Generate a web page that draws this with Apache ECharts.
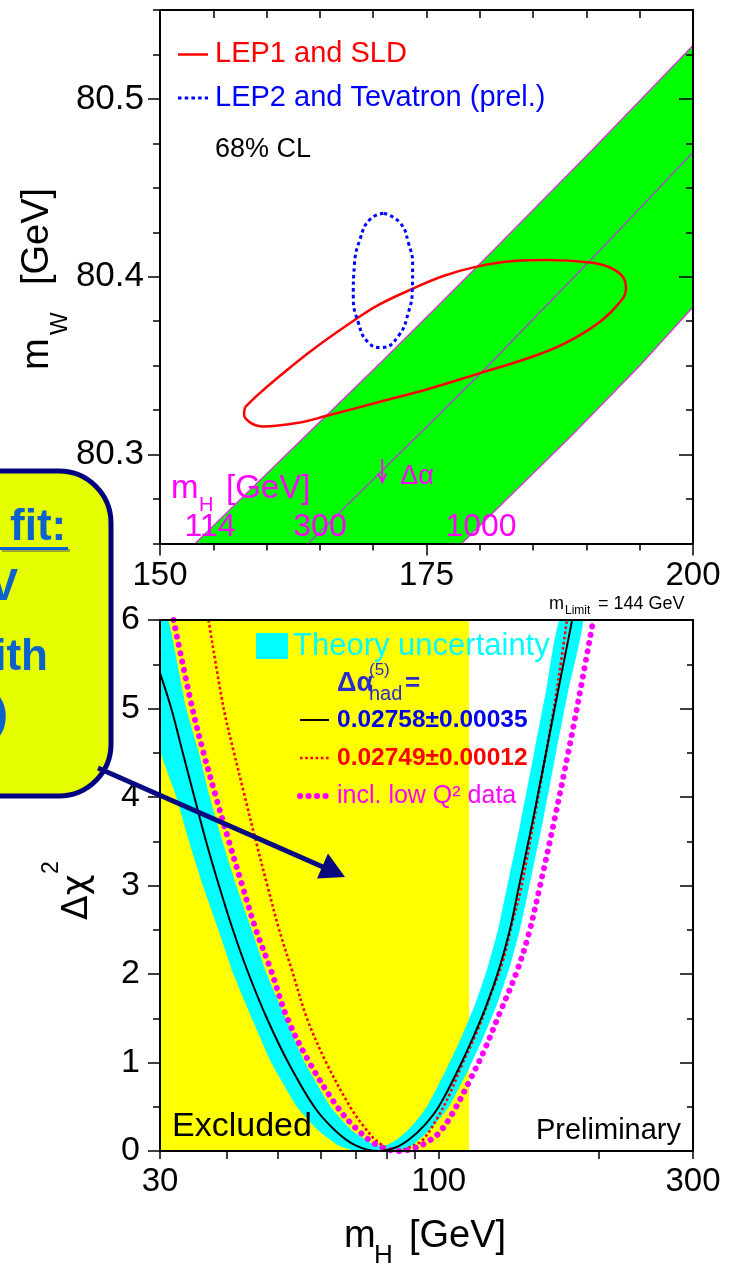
<!DOCTYPE html>
<html><head><meta charset="utf-8">
<script src="https://cdn.jsdelivr.net/npm/echarts@6/dist/echarts.min.js"></script>
<style>html,body{margin:0;padding:0;background:#fff}#c{width:729px;height:1266px}</style>
</head><body><div id="c"></div><script>
// ===== DATA: top panel (m_t [GeV], m_W [GeV]) =====
const lep1Sld = [[157.97,80.3265],[159.07,80.333],[161.26,80.3443],[164.38,80.3593],[168.6,80.3771],[170.64,80.3846],[173.61,80.393],[176.58,80.4004],[179.71,80.4057],[183.14,80.4089],[186.27,80.4094],[190.34,80.408],[192.21,80.4052],[193.46,80.3996],[193.71,80.393],[192.84,80.3836],[190.97,80.3733],[187.83,80.3621],[184.71,80.3546],[180.02,80.3458],[175.33,80.3372],[170.64,80.3297],[165.64,80.3218],[162.82,80.3177],[159.69,80.3158],[158.44,80.3181],[157.88,80.3228],[157.97,80.3265]];
const lep2Tev = [[171.01,80.4357],[172.51,80.4304],[173.3,80.4192],[173.7,80.4061],[173.67,80.393],[173.3,80.3799],[172.36,80.3667],[170.8,80.3602],[169.54,80.363],[168.6,80.3743],[168.13,80.3892],[168.23,80.4061],[168.76,80.421],[169.7,80.4323],[171.01,80.4357]];
const smBand114 = [[153.3,80.25],[163.4,80.309],[171.1,80.354],[175.8,80.382],[181.3,80.415],[190.5,80.471],[200,80.53]];
const smBand1000 = [[178.3,80.25],[188.5,80.31],[195.0,80.35],[200,80.383]];
const smLine300 = [[163.9,80.25],[173.9,80.309],[180.3,80.347],[191.3,80.415],[200,80.47]];
const deltaAlphaArrow = [[170.85,80.2975,80.2844]];
const topMassLabels = ['114','300','1000'];

// ===== DATA: bottom panel (m_H [GeV], delta chi^2) =====
const excludedRange = [[30,114]];
const fitCurve = [[30,5.4],[31.5,5.0],[33.1,4.5],[34.8,4.0],[36.6,3.5],[38.7,3.0],[41.1,2.5],[44.0,2.0],[47.6,1.5],[52.2,1.0],[58.4,0.5],[64,0.23],[70,0.06],[77,0],[83,0.04],[88,0.13],[94,0.29],[100,0.5],[109,0.93],[116,1.28],[123,1.65],[130,2.07],[136,2.5],[141,2.95],[150,3.72],[159,4.5],[167.5,5.2],[178,6.0]];
const bandOuter = [[30,4.55],[32.2,4.0],[34,3.5],[36.1,3.0],[38.6,2.5],[41.2,2.0],[44.6,1.5],[48.5,1.0],[54.2,0.5],[59.5,0.23],[65,0.06],[70,0],[86,0],[92,0.13],[98,0.29],[104.5,0.5],[113.9,0.93],[121.2,1.28],[128.5,1.65],[135.8,2.07],[142,2.5],[147.4,2.95],[156.8,3.72],[166,4.5],[175,5.2],[186.5,6.0]];
const bandInner = [[30,6],[31.1,6.0],[33.6,5.0],[35.5,4.5],[37.2,4.0],[39.3,3.5],[41.7,3.0],[44.6,2.5],[47.6,2.0],[51.6,1.5],[56.1,1.0],[62.7,0.5],[68.8,0.23],[75.3,0.08],[79,0.06],[83.6,0.13],[89.3,0.29],[95,0.5],[103.5,0.93],[110.2,1.28],[116.9,1.65],[123.5,2.07],[129.2,2.5],[134,2.95],[142.5,3.72],[151,4.5],[159,5.2],[168.5,6.0]];
const redCurve = [[37,6.0],[39.5,5.0],[41.3,4.5],[43.3,4.0],[45.4,3.5],[47.7,3.0],[50.2,2.5],[53,2.05],[56.6,1.5],[61.5,1.0],[68.2,0.5],[72.3,0.28],[77,0.1],[83,0],[88,0.04],[93.5,0.13],[100,0.4],[105,0.65],[110.5,0.97],[118,1.35],[125,1.75],[132,2.15],[137,2.55],[142.5,2.95],[151,3.75],[159,4.5],[166.5,5.2],[174,6.0]];
const magCurve = [[31.8,6.0],[34.5,5.0],[36.2,4.5],[38.2,4.0],[40.4,3.5],[42.8,3.0],[45.4,2.5],[48.4,2.05],[52,1.5],[57.2,1.0],[64.5,0.5],[69.3,0.28],[75,0.1],[80,0.02],[84,0],[90,0.03],[95,0.1],[100,0.2],[106,0.42],[114,0.78],[122,1.15],[130,1.55],[140,2.02],[147.5,2.45],[155,3.0],[165,3.75],[175,4.5],[185,5.25],[195,6.0]];
const logTicks = [30,40,50,60,70,80,90,100,200,300];
const logLabels = [30,100,300];
const mwLabels = [80.3,80.4,80.5];

// ===== CHART =====
const FONT = '"Liberation Sans", Arial, Helvetica, sans-serif';
const chart = echarts.init(document.getElementById('c'), null, {renderer:'canvas'});
const line = (c,w) => ({show:true, onZero:false, lineStyle:{color:c||'#000', width:w||2}});
const noLine = {show:false};
const tick = (len, inside, w) => ({show:true, length:len, inside:!!inside, lineStyle:{color:'#000', width:w||1.5}});
const lab = (size, margin, extra) => Object.assign({show:true, color:'#000', fontSize:size, fontFamily:FONT, margin:margin}, extra||{});
const base = {splitLine:{show:false}, z:10, axisLabel:{show:false}};

const xAxes = [
  Object.assign({}, base, {gridIndex:0, type:'value', position:'bottom', min:150, max:200, interval:5,
    axisLine:line(), axisTick:tick(7), axisLabel:lab(33,16,{formatter:v => (v%25===0 ? String(v) : '')})}),
  Object.assign({}, base, {gridIndex:0, type:'value', position:'bottom', min:150, max:200, interval:25,
    axisLine:noLine, axisTick:tick(12)}),
  Object.assign({}, base, {gridIndex:0, type:'value', position:'top', min:150, max:200, interval:5,
    axisLine:line(), axisTick:tick(8,true)}),
  Object.assign({}, base, {gridIndex:1, type:'log', logBase:10, position:'bottom', min:30, max:300,
    axisLine:line(), axisTick:Object.assign(tick(8), {customValues:logTicks}),
    axisLabel:lab(33,14,{customValues:logLabels})}),
  Object.assign({}, base, {gridIndex:1, type:'log', logBase:10, position:'top', min:30, max:300,
    axisLine:line(), axisTick:{show:false}})
];
const yAxes = [
  Object.assign({}, base, {gridIndex:0, type:'value', position:'left', min:80.25, max:80.55, interval:0.025,
    axisLine:line(), axisTick:tick(7)}),
  Object.assign({}, base, {gridIndex:0, type:'value', position:'left', min:80.25, max:80.55,
    axisLine:noLine, axisTick:Object.assign(tick(12), {customValues:mwLabels}),
    axisLabel:lab(35,16,{customValues:mwLabels, formatter:v => Number(v).toFixed(1)})}),
  Object.assign({}, base, {gridIndex:0, type:'value', position:'right', min:80.25, max:80.55, interval:0.025,
    axisLine:line(), axisTick:tick(7,true)}),
  Object.assign({}, base, {gridIndex:0, type:'value', position:'right', min:80.25, max:80.55,
    axisLine:noLine, axisTick:Object.assign(tick(14,true), {customValues:mwLabels})}),
  Object.assign({}, base, {gridIndex:1, type:'value', position:'left', min:0, max:6, interval:1,
    axisLine:line(), axisTick:tick(12), minorTick:{show:true, splitNumber:2, length:7, lineStyle:{color:'#000', width:1.5}},
    axisLabel:lab(34,20)}),
  Object.assign({}, base, {gridIndex:1, type:'value', position:'right', min:0, max:6, interval:1,
    axisLine:line(), axisTick:tick(13,true), minorTick:{show:true, splitNumber:2, length:6, lineStyle:{color:'#000', width:1.5}}})
];

function polySeries(name, xi, yi, data, ptsFn, fill, z, smooth) {
  return {name, type:'custom', xAxisIndex:xi, yAxisIndex:yi, z, clip:true, silent:true, data,
    renderItem:(params, api) => {
      if (params.dataIndex !== 0) return null;
      const pts = ptsFn().map(p => api.coord(p));
      return {type:'polygon', shape:{points:pts, smooth:smooth||0}, style:{fill:fill}};
    }};
}
const lineS = (name, xi, yi, data, style, z, smooth) => ({name, type:'line', xAxisIndex:xi, yAxisIndex:yi, data,
  showSymbol:false, symbol:'none', smooth:(smooth===undefined?0.35:smooth), z, clip:true, silent:true, lineStyle:style});

const series = [
  polySeries('SM band', 0, 0, smBand114, () => smBand114.concat(smBand1000.slice().reverse()), '#00ff00', 1, 0),
  lineS('mH=114', 0, 0, smBand114, {color:'#d040d0', width:1.5}, 2, false),
  lineS('mH=1000', 0, 0, smBand1000, {color:'#d040d0', width:1.5}, 2, false),
  lineS('mH=300', 0, 0, smLine300, {color:'#a050c0', width:1.5}, 2, false),
  lineS('LEP1 and SLD', 0, 0, lep1Sld, {color:'#ff0000', width:2.5}, 4, 0.4),
  lineS('LEP2 and Tevatron (prel.)', 0, 0, lep2Tev, {color:'#0000ff', width:3, type:[3.5,3.2]}, 4, 0.5),
  {name:'delta alpha', type:'custom', xAxisIndex:0, yAxisIndex:0, z:5, silent:true, data:deltaAlphaArrow,
    encode:{x:0, y:[1,2]},
    renderItem:(params, api) => {
      const a = api.coord([api.value(0), api.value(1)]);
      const b = api.coord([api.value(0), api.value(2)]);
      return {type:'group', children:[
        {type:'line', shape:{x1:a[0], y1:a[1], x2:b[0], y2:b[1]}, style:{stroke:'#ff00ff', lineWidth:1.8}},
        {type:'polyline', shape:{points:[[b[0]-4,b[1]-9],[b[0],b[1]],[b[0]+4,b[1]-9]]}, style:{stroke:'#ff00ff', lineWidth:1.8, fill:null}},
        {type:'text', x:b[0]+18, y:b[1]-6, style:{text:'Δα', fill:'#ff00ff', fontSize:27, fontFamily:FONT, align:'left', verticalAlign:'middle'}}
      ]};
    }},
  {name:'Excluded', type:'custom', xAxisIndex:3, yAxisIndex:4, z:1, silent:true, clip:true, data:excludedRange,
    encode:{x:[0,1]},
    renderItem:(params, api) => {
      const p0 = api.coord([api.value(0), 6]);
      const p1 = api.coord([api.value(1), 0]);
      return {type:'rect', shape:{x:p0[0], y:p0[1], width:p1[0]-p0[0], height:p1[1]-p0[1]}, style:{fill:'#ffff00'}};
    }},
  polySeries('Theory uncertainty', 3, 4, bandOuter, () => bandOuter.concat(bandInner.slice().reverse()), '#00ffff', 2, 0.15),
  lineS('0.02758±0.00035', 3, 4, fitCurve, {color:'#000', width:2}, 5),
  lineS('0.02749±0.00012', 3, 4, redCurve, {color:'#ff0000', width:2.6, type:[2.6,2.6]}, 4),
  lineS('incl. low Q2 data', 3, 4, magCurve, {color:'#ff00ff', width:6, type:[0.1,8.4], cap:'round'}, 4)
];

function T(x, y, text, o) {
  o = o || {};
  const st = {text:text, fill:o.color||'#000', fontSize:o.size||30, fontFamily:o.family||FONT, fontWeight:o.weight||'normal',
    align:o.align||'left', verticalAlign:o.va||'middle'};
  if (o.shadow) { st.textShadowColor = o.shadow; st.textShadowOffsetX = 2.5; st.textShadowOffsetY = 2.5; st.textShadowBlur = 0; }
  return {type:'text', x:x, y:y, z:100, rotation:o.rot||0, style:st};
}
const L = (x1,y1,x2,y2,stroke,w,dash,cap) => ({type:'line', z:100, shape:{x1,y1,x2,y2},
  style:{stroke, lineWidth:w, lineDash:dash||null, lineCap:cap||'butt'}});

const BOXBLUE = '#0c62cc', SH = 'rgba(90,90,90,0.55)';
const graphic = [
  {type:'rect', z:90, shape:{x:-70, y:471, width:181, height:325, r:52}, style:{fill:'#e6ff00', stroke:'#000080', lineWidth:5}},
  T(10, 528, 'fit:', {size:44, weight:'bold', color:BOXBLUE, shadow:SH}),
  {type:'rect', z:100, shape:{x:0, y:547, width:68, height:3}, style:{fill:BOXBLUE, shadowColor:SH, shadowOffsetX:2, shadowOffsetY:2}},
  T(18, 588, 'V', {size:44, weight:'bold', color:BOXBLUE, shadow:SH, align:'right'}),
  T(48, 658, 'ith', {size:44, weight:'bold', color:BOXBLUE, shadow:SH, align:'right'}),
  T(8, 716, ')', {size:44, weight:'bold', color:BOXBLUE, shadow:SH, align:'right'}),
  L(98, 768, 323, 867, '#0a0a80', 5),
  {type:'polygon', z:100, shape:{points:[[345,877],[317,878.6],[328,853.5]]}, style:{fill:'#0a0a80'}},
  L(178, 54.5, 208, 54.5, '#ff0000', 2.5),
  T(215, 54, 'LEP1 and SLD', {size:29, color:'#ff0000'}),
  L(178, 98, 208, 98, '#0000ff', 3, [3.5,3.2]),
  T(215, 98, 'LEP2 and Tevatron (prel.)', {size:29, color:'#0000ff'}),
  T(215, 150, '68% CL', {size:27}),
  T(171, 489, 'm', {size:33, color:'#ff00ff'}),
  T(199, 505, 'H', {size:20, color:'#ff00ff'}),
  T(226, 489, '[GeV]', {size:33, color:'#ff00ff'}),
  T(210, 527, topMassLabels[0], {size:32, color:'#ff00ff', align:'center'}),
  T(320, 527, topMassLabels[1], {size:32, color:'#ff00ff', align:'center'}),
  T(481, 527, topMassLabels[2], {size:32, color:'#ff00ff', align:'center'}),
  {type:'group', x:51, y:370, rotation:Math.PI/2, z:100, children:[
    T(0, -13, 'm', {size:38}),
    T(35, 9, 'W', {size:24}),
    T(85, -13, '[GeV]', {size:38})
  ]},
  {type:'group', x:90, y:920, rotation:Math.PI/2, z:100, children:[
    T(0, -12, 'Δχ', {size:36, family:'"DejaVu Sans", sans-serif'}),
    T(46, -38, '2', {size:23})
  ]},
  T(344, 1237, 'm', {size:38}),
  T(374, 1256, 'H', {size:26}),
  T(409, 1237, '[GeV]', {size:38}),
  T(549, 604, 'm', {size:18}),
  T(565, 611, 'Limit', {size:12}),
  T(598, 604, '= 144 GeV', {size:18}),
  {type:'rect', z:100, shape:{x:256, y:633, width:32, height:26}, style:{fill:'#00ffff'}},
  T(293, 646, 'Theory uncertainty', {size:31, color:'#00ffff'}),
  T(337, 684, 'Δα', {size:27, weight:'bold', color:'#2b2bcc'}),
  T(369, 670, '(5)', {size:17, color:'#2b2bcc'}),
  T(369, 694, 'had', {size:20, color:'#2b2bcc'}),
  T(405, 684, '=', {size:26, weight:'bold', color:'#2b2bcc'}),
  L(300, 720, 329, 720, '#000', 2),
  T(337, 720, '0.02758±0.00035', {size:24.5, weight:'bold', color:'#0000ee'}),
  L(300, 758, 329, 758, '#ff0000', 2.6, [2.6,2.6]),
  T(337, 758, '0.02749±0.00012', {size:24.5, weight:'bold', color:'#ff0000'}),
  L(300, 796, 329, 796, '#ff00ff', 6, [0.1,8.4], 'round'),
  T(337, 796, 'incl. low Q² data', {size:25, color:'#ff00ff'}),
  T(172, 1127, 'Excluded', {size:34}),
  T(681, 1131, 'Preliminary', {size:29, align:'right'})
];

chart.setOption({
  animation:false,
  backgroundColor:'#fff',
  grid:[
    {left:160, top:10, width:533, height:533.5, outerBoundsMode:'none', containLabel:false},
    {left:160, top:620, width:533, height:531, outerBoundsMode:'none', containLabel:false}
  ],
  xAxis:xAxes, yAxis:yAxes, series:series, graphic:graphic
});
</script></body></html>
